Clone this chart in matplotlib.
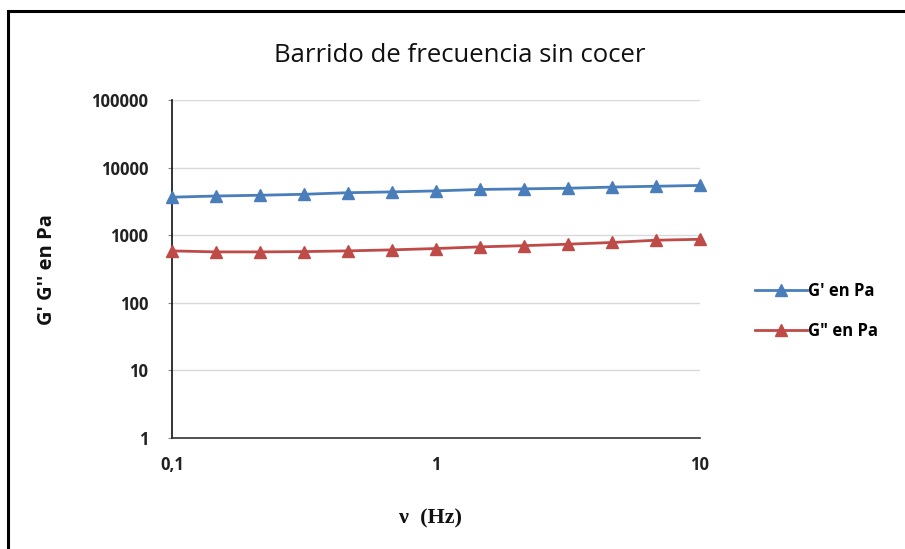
import matplotlib.pyplot as plt
import matplotlib.patches as patches
from matplotlib.lines import Line2D

# Data
freq_hz = [0.1, 0.147, 0.215, 0.316, 0.464, 0.681, 1.0, 1.47, 2.15, 3.16, 4.64, 6.81, 10.0]
g_prime = [3650, 3800, 3900, 4030, 4250, 4370, 4520, 4750, 4850, 4950, 5150, 5300, 5450]
g_double = [586, 566, 566, 572, 586, 607, 635, 672, 700, 736, 780, 843, 870]

x_ticks = [0.1, 1, 10]
x_labels = ["0,1", "1", "10"]
y_ticks = [1, 10, 100, 1000, 10000, 100000]
y_labels = ["1", "10", "100", "1000", "10000", "100000"]

blue = "#4A7EBB"
red = "#BE4B48"
sans = "Open Sans"

fig = plt.figure(figsize=(9.05, 5.49), dpi=100)
ax = fig.add_axes([172 / 905, 1 - 438 / 549, (700 - 172) / 905, (438 - 100) / 549])

ax.plot(freq_hz, g_prime, color=blue, lw=2, marker="^", ms=8.5, clip_on=False, zorder=3)
ax.plot(freq_hz, g_double, color=red, lw=2, marker="^", ms=8.5, clip_on=False, zorder=3)

ax.set_xscale("log")
ax.set_yscale("log")
ax.set_xlim(0.1, 10)
ax.set_ylim(1, 100000)
ax.set_xticks(x_ticks)
ax.set_xticklabels(x_labels)
ax.set_yticks(y_ticks)
ax.set_yticklabels(y_labels)
ax.minorticks_off()
ax.tick_params(axis="y", length=3, width=0.8, color="#888888", pad=14)
ax.tick_params(axis="x", length=0, pad=13)
for lab in ax.get_xticklabels() + ax.get_yticklabels():
    lab.set_family(sans)
    lab.set_fontweight("bold")
    lab.set_fontsize(12)
    lab.set_color("#222222")

ax.grid(axis="y", color="#D9D9D9", lw=1)
ax.set_axisbelow(True)
for s in ["top", "right"]:
    ax.spines[s].set_visible(False)
ax.spines["left"].set_color("#111111")
ax.spines["bottom"].set_color("#333333")
ax.spines["left"].set_linewidth(1.2)
ax.spines["bottom"].set_linewidth(1.2)

fig.text(460 / 905, 1 - 55 / 549, "Barrido de frecuencia sin cocer", ha="center", va="center",
         family=sans, fontsize=18.5, color="#111111")
fig.text(47 / 905, 1 - 270 / 549, "G' G'' en Pa", ha="center", va="center", rotation=90,
         family=sans, fontweight="bold", fontsize=14.5, color="#111111")
fig.text(430 / 905, 1 - 518 / 549, "ν  (Hz)", ha="center", va="center",
         family="Liberation Serif", fontweight="bold", fontsize=16, color="#111111")

# legend on the right
handles = [Line2D([], [], color=blue, lw=2, marker="^", ms=8.5),
           Line2D([], [], color=red, lw=2, marker="^", ms=8.5)]
fig.legend(handles, ["G' en Pa", 'G" en Pa'], loc="center left",
           bbox_to_anchor=(740 / 905, 1 - 311 / 549), frameon=False, handlelength=3.1,
           handletextpad=0.1, labelspacing=1.3,
           prop={"family": sans, "weight": "bold", "size": 12})

# outer chart frame, cut off at the right and bottom
frame = patches.Rectangle((8 / 905, -0.1), 1.2, 1.1 - 11 / 549, transform=fig.transFigure,
                          fill=False, edgecolor="black", lw=2.2, clip_on=False)
fig.patches.append(frame)

fig.savefig("out.png", dpi=100)
